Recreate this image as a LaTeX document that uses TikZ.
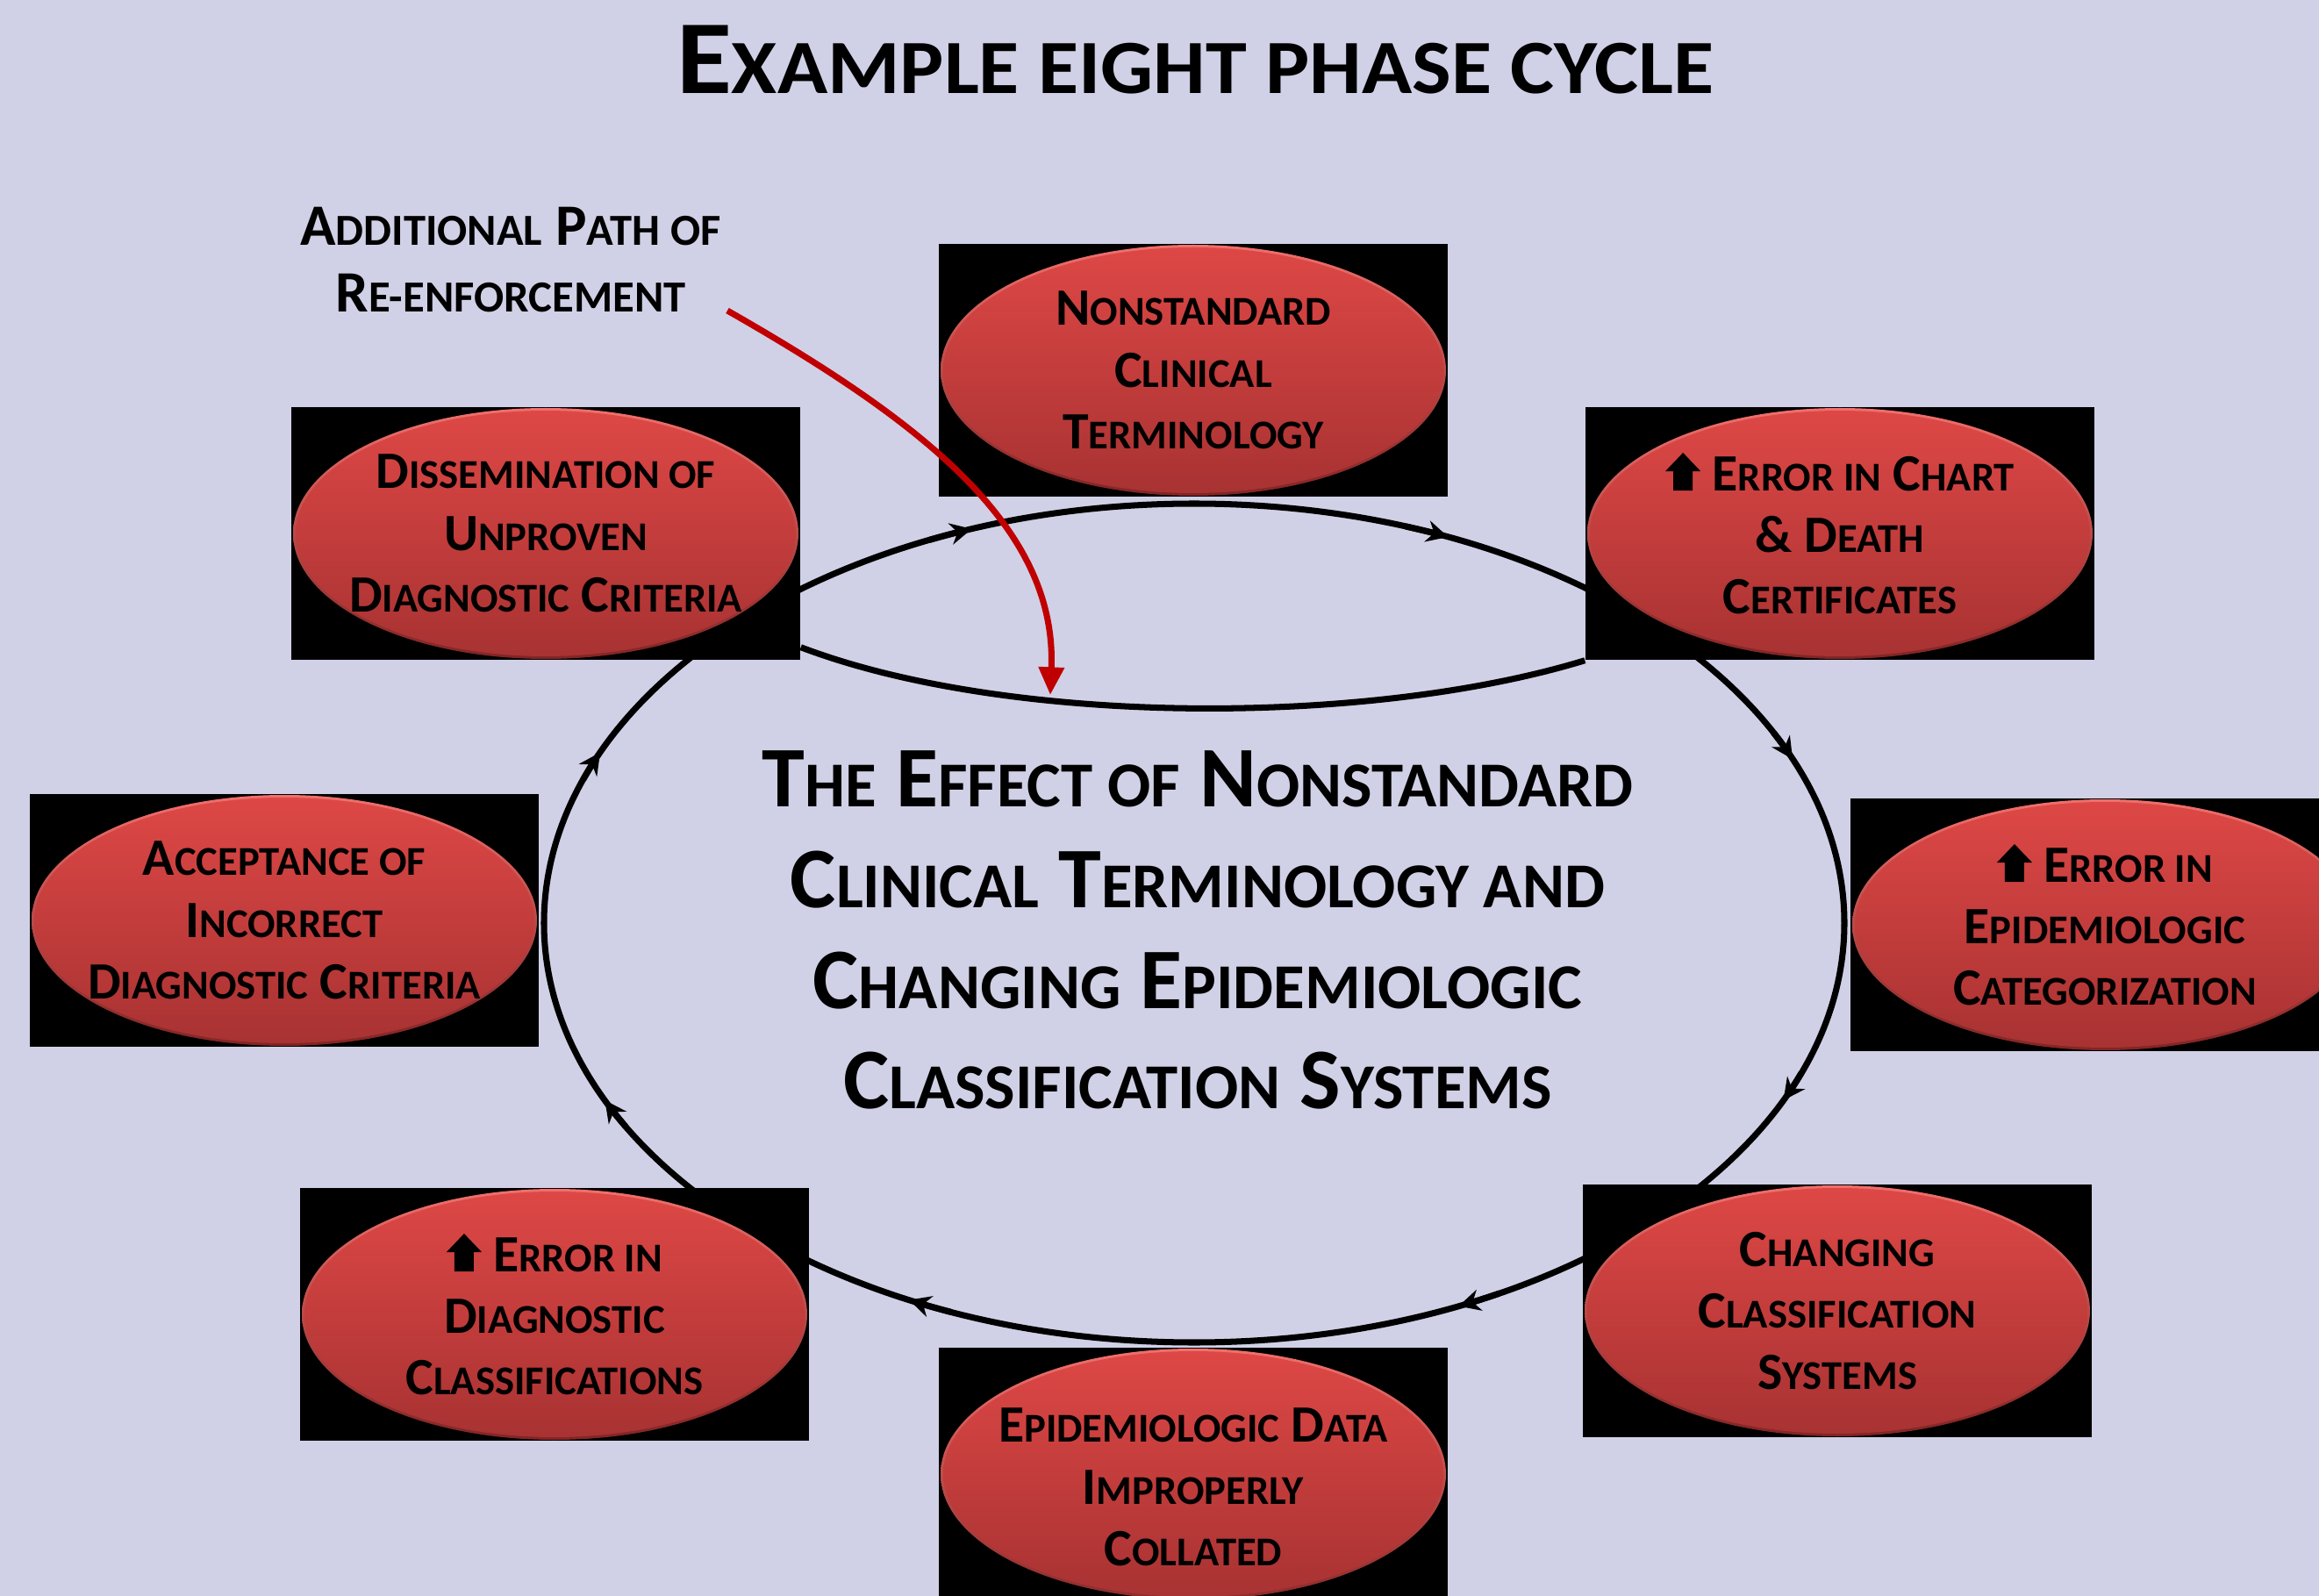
\documentclass[tikz,border=0pt]{standalone}
\usepackage{fontspec}
\setmainfont{Carlito}
\usepackage{relsize}
\usetikzlibrary{arrows.meta,backgrounds}
\definecolor{bg}{RGB}{208,209,230}
\definecolor{phtop}{RGB}{222,72,70}
\definecolor{phbot}{RGB}{168,50,50}
\definecolor{phrim}{RGB}{240,112,108}
\definecolor{phedge}{RGB}{130,36,36}
\definecolor{pathred}{RGB}{192,0,0}
% fake small caps
\newcommand{\lo}[1]{\textscale{0.78}{#1}}
\newcommand{\uparr}{\tikz[baseline=0pt]\fill (-0.2,0.22) -- (0,0.43) -- (0.2,0.22) -- (0.11,0.22) -- (0.11,0) -- (-0.11,0) -- (-0.11,0.22) -- cycle;}
\begin{document}
\begin{tikzpicture}[phase/.style={rectangle,fill=black,minimum width=5.8cm,minimum height=2.88cm,inner sep=0pt,align=center,
      font=\fontsize{17}{20}\selectfont\bfseries,
      path picture={\shade[top color=phrim,bottom color=phedge] (path picture bounding box.north) ++(0,-1.44) ellipse [x radius=2.88cm,y radius=1.43cm];
        \shade[top color=phtop,bottom color=phbot] (path picture bounding box.north) ++(0,-1.44) ellipse [x radius=2.85cm,y radius=1.40cm];}},
    loopline/.style={line width=2pt},
    looptip/.style={-{Stealth[length=7pt,width=7pt]}}]
  \useasboundingbox (0,0) rectangle (26.43,-18.19);
  \node[font=\fontsize{34}{38}\selectfont\bfseries] (title) at (13.62,-0.68) {\scalebox{1.08}[1]{E\lo{XAMPLE EIGHT PHASE CYCLE}}};
  \node[font=\fontsize{19}{21.6}\selectfont\bfseries,align=center] (note) at (5.82,-2.96) {A\lo{DDITIONAL} P\lo{ATH OF}\\R\lo{E-ENFORCEMENT}};
  \coordinate (hub) at (13.61,-10.52);
  \node[phase] (1) at (6.22,-6.08) {D\lo{ISSEMINATION OF}\\U\lo{NPROVEN}\\D\lo{IAGNOSTIC} C\lo{RITERIA}};
  \node[phase] (2) at (13.60,-4.22) {N\lo{ONSTANDARD}\\C\lo{LINICAL}\\T\lo{ERMINOLOGY}};
  \node[phase] (3) at (20.97,-6.08) {\uparr{} E\lo{RROR IN} C\lo{HART}\\\& D\lo{EATH}\\C\lo{ERTIFICATES}};
  \node[phase] (4) at (23.99,-10.54) {\uparr{} E\lo{RROR IN}\\E\lo{PIDEMIOLOGIC}\\C\lo{ATEGORIZATION}};
  \node[phase] (5) at (20.94,-14.94) {C\lo{HANGING}\\C\lo{LASSIFICATION}\\S\lo{YSTEMS}};
  \node[phase,minimum height=3.18cm] (6) at (13.60,-16.95) {E\lo{PIDEMIOLOGIC} D\lo{ATA}\\I\lo{MPROPERLY}\\C\lo{OLLATED}};
  \node[phase] (7) at (6.32,-14.98) {\uparr{} E\lo{RROR IN}\\D\lo{IAGNOSTIC}\\C\lo{LASSIFICATIONS}};
  \node[phase] (8) at (3.24,-10.49) {A\lo{CCEPTANCE OF}\\I\lo{NCORRECT}\\D\lo{IAGNOSTIC} C\lo{RITERIA}};
  \node[font=\fontsize{28}{32.7}\selectfont\bfseries,align=center] (effect) at (13.65,-10.60)
    {T\lo{HE} E\lo{FFECT OF} N\lo{ONSTANDARD}\\C\lo{LINICAL} T\lo{ERMINOLOGY AND}\\C\lo{HANGING} E\lo{PIDEMIOLOGIC}\\C\lo{LASSIFICATION} S\lo{YSTEMS}};
  \begin{scope}[on background layer]
    \fill[bg] (0,0) rectangle (26.43,-18.19);
    \draw[loopline] (hub) ellipse [x radius=7.41cm,y radius=4.78cm];
    \foreach \a in {110,67,23,-25,-66,-116,-155,156}
      \draw[loopline,looptip] (hub) ++({\a+4}:7.41cm and 4.78cm) arc [start angle=\a+4,end angle=\a,x radius=7.41cm,y radius=4.78cm];
    % re-enforcement path
    \draw[loopline] ([yshift=0.15cm]1.south east) .. controls (11.5,-8.28) and (15.6,-8.28) .. (3.south west);
  \end{scope}
  \coordinate (tail) at (8.29,-3.54);
  \coordinate (reinf) at (11.97,-7.92);
  \draw[pathred,line width=2pt,-{Triangle[length=9pt,width=8pt]}] (tail) .. controls (10.5,-4.8) and (12.05,-6.0) .. (reinf);
\end{tikzpicture}
\end{document}
